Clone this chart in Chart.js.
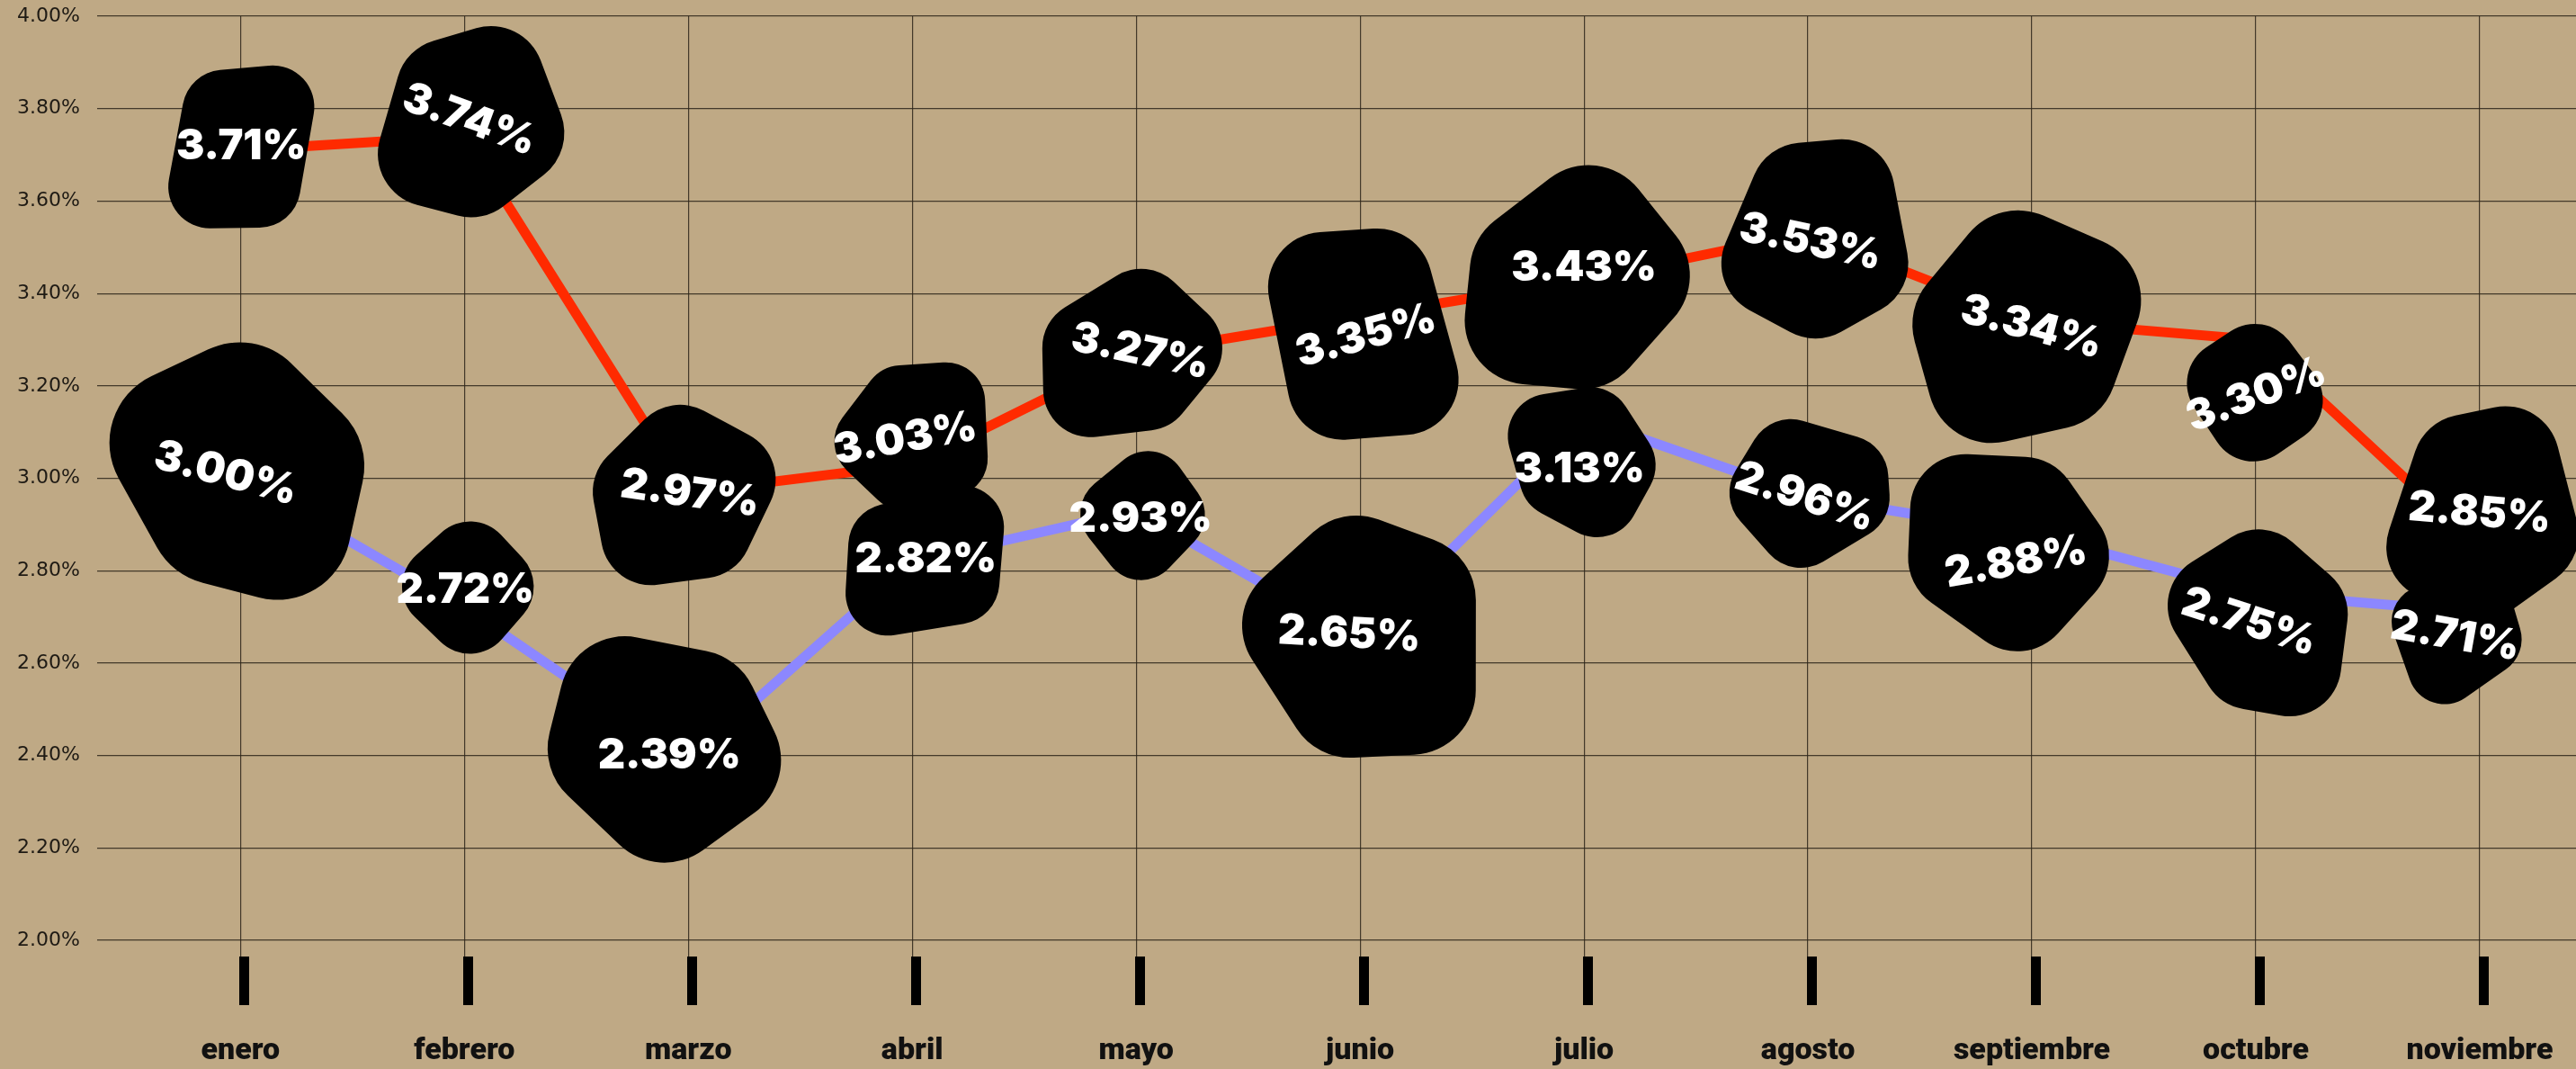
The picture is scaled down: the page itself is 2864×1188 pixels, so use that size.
<!DOCTYPE html>
<html>
<head>
<meta charset="utf-8">
<script src="https://cdn.jsdelivr.net/npm/chart.js@4.4.0/dist/chart.umd.min.js"></script>
<style>
  html, body { margin: 0; padding: 0; background: #bfa985; }
  #wrap { width: 2864px; height: 1188px; }
</style>
</head>
<body>
<div id="wrap"><canvas id="myChart" width="2864" height="1188"></canvas></div>
<script>
// chart data
var months = ['enero', 'febrero', 'marzo', 'abril', 'mayo', 'junio', 'julio', 'agosto', 'septiembre', 'octubre', 'noviembre'];
var redValues = [3.71, 3.74, 2.97, 3.03, 3.27, 3.35, 3.43, 3.53, 3.34, 3.30, 2.85];
var blueValues = [3.00, 2.72, 2.39, 2.82, 2.93, 2.65, 3.13, 2.96, 2.88, 2.75, 2.71];
var yTicks = [2.0, 2.2, 2.4, 2.6, 2.8, 3.0, 3.2, 3.4, 3.6, 3.8, 4.0];

// blob look per point: [width, height, corners, turn(deg), text angle(deg), dx, dy]
var redBlobs = [
  [165, 170, 4, -40, 0, 1, -6],
  [212, 210, 5, 10, 20, 6, -20],
  [205, 200, 5, -20, 8, 2, 0],
  [170, 157, 5, 30, -10, -8, -30],
  [200, 188, 5, -10, 12, 5, -4],
  [220, 220, 4, 35, -15, 6, 20],
  [254, 254, 5, -5, 0, 0, -15],
  [210, 213, 5, 20, 12, 3, 8],
  [255, 261, 5, -25, 15, 0, 5],
  [173, 172, 4, 10, -20, 0, 60],
  [215, 232, 5, 15, 5, 0, -40]
];
var blueBlobs = [
  [294, 292, 5, -15, 15, -16, -7],
  [168, 170, 4, 0, 0, 1, -21],
  [261, 259, 5, 20, 0, -21, -7],
  [168, 173, 4, 40, 0, 15, -4],
  [153, 168, 4, 5, 0, 5, 7],
  [256, 256, 5, -30, 3, -12, -8],
  [168, 170, 5, 0, 0, -5, 55],
  [174, 170, 5, 30, 18, -3, -1],
  [220, 220, 5, 10, -10, -18, 30],
  [205, 210, 5, -20, 18, -7, 30],
  [146, 183, 4, 20, 10, -27, 25]
];
var bumps = [1.0, 0.78, 0.95, 0.72, 1.08, 0.86];

var bgColor = '#bfa985';
var gridColor = 'rgba(45,38,26,0.85)';

function toPoints(values){
  return values.map(function(v, i){ return {x: i, y: v}; });
}

//draws one rounded irregular blob around (cx, cy)
function drawBlob(ctx, cx, cy, b, seed){
  var n = b[2], turn = b[3] * Math.PI / 180;
  var pts = [];
  for(var k = 0; k < n; k++){
    var a = turn + k * 2 * Math.PI / n;
    var r = bumps[(k + seed) % bumps.length];
    pts.push([Math.cos(a) * r, Math.sin(a) * r]);
  }
  var minX = Math.min.apply(null, pts.map(function(p){ return p[0]; }));
  var maxX = Math.max.apply(null, pts.map(function(p){ return p[0]; }));
  var minY = Math.min.apply(null, pts.map(function(p){ return p[1]; }));
  var maxY = Math.max.apply(null, pts.map(function(p){ return p[1]; }));
  var sx = b[0] * 1.1 / (maxX - minX), sy = b[1] * 1.1 / (maxY - minY);
  var ox = (minX + maxX) / 2, oy = (minY + maxY) / 2;
  pts = pts.map(function(p){ return [cx + (p[0] - ox) * sx, cy + (p[1] - oy) * sy]; });
  var rad = Math.min(b[0], b[1]) * 0.28;
  ctx.beginPath();
  var last = pts[n - 1], first = pts[0];
  ctx.moveTo((last[0] + first[0]) / 2, (last[1] + first[1]) / 2);
  for(var j = 0; j < n; j++){
    var p = pts[j], q = pts[(j + 1) % n];
    ctx.arcTo(p[0], p[1], (p[0] + q[0]) / 2, (p[1] + q[1]) / 2, rad);
  }
  ctx.closePath();
  ctx.fill();
}

var blobPlugin = {
  id: 'blobs',
  beforeDraw: function(chart){
    var ctx = chart.ctx;
    ctx.save();
    ctx.fillStyle = bgColor;
    ctx.fillRect(0, 0, chart.width, chart.height);
    ctx.restore();
  },
  afterDatasetsDraw: function(chart){
    var ctx = chart.ctx;
    var sets = [[1, blueValues, blueBlobs], [0, redValues, redBlobs]];
    ctx.save();
    sets.forEach(function(s){
      var meta = chart.getDatasetMeta(s[0]);
      meta.data.forEach(function(pt, i){
        var b = s[2][i];
        var cx = pt.x + b[5], cy = pt.y + b[6];
        ctx.fillStyle = '#000';
        drawBlob(ctx, cx, cy, b, i * 2 + s[0]);
        ctx.save();
        ctx.translate(cx, cy);
        ctx.rotate(b[4] * Math.PI / 180);
        ctx.fillStyle = '#fff';
        ctx.font = '900 47px Inter';
        ctx.textAlign = 'center';
        ctx.textBaseline = 'middle';
        ctx.fillText(s[1][i].toFixed(2) + '%', 0, 2);
        ctx.restore();
      });
    });
    ctx.restore();
  },
  afterDraw: function(chart){
    //thick black tick bars under each month
    var ctx = chart.ctx, xs = chart.scales.x, bottom = chart.chartArea.bottom;
    ctx.save();
    ctx.fillStyle = '#000';
    months.forEach(function(m, i){
      var px = xs.getPixelForValue(i);
      ctx.fillRect(Math.round(px) - 1, bottom + 18, 11, 54);
    });
    ctx.restore();
  }
};

var chart = new Chart(document.getElementById('myChart'), {
  type: 'line',
  data: {
    datasets: [{
      data: toPoints(redValues),
      borderColor: '#ff2a00',
      borderWidth: 11
    }, {
      data: toPoints(blueValues),
      borderColor: '#8c87ff',
      borderWidth: 11
    }]
  },
  options: {
    responsive: false,
    animation: false,
    layout: { padding: { left: 19, top: 18, right: 0, bottom: 0 } },
    plugins: { legend: { display: false }, tooltip: { enabled: false } },
    elements: { point: { radius: 0 }, line: { tension: 0 } },
    scales: {
      x: {
        type: 'linear',
        min: -0.64,
        max: 10.43,
        border: { display: false },
        grid: { color: gridColor, lineWidth: 1.2, drawTicks: true, tickLength: 18, tickColor: gridColor },
        ticks: {
          stepSize: 1,
          includeBounds: false,
          autoSkip: false,
          maxRotation: 0,
          padding: 85,
          color: '#111',
          font: { family: 'Roboto', weight: '900', size: 34 },
          callback: function(v){
            var i = Math.round(v);
            return Math.abs(v - i) < 1e-6 && months[i] ? months[i] : '';
          }
        },
        afterFit: function(s){
          s.height = 143;
          //labels sit well inside, no side padding needed
          s.paddingLeft = 0;
          s.paddingRight = 0;
        }
      },
      y: {
        min: 2,
        max: 4,
        border: { display: false },
        grid: { color: gridColor, lineWidth: 1.2, drawTicks: false },
        ticks: {
          crossAlign: 'far',
          padding: 0,
          color: '#1e1a14',
          font: { family: 'DejaVu Sans', size: 22 },
          callback: function(v){ return v.toFixed(2) + '%'; }
        },
        afterBuildTicks: function(s){
          s.ticks = yTicks.map(function(v){ return {value: v}; });
        },
        afterFit: function(s){ s.width = 89; }
      }
    }
  },
  plugins: [blobPlugin]
});
</script>
</body>
</html>
